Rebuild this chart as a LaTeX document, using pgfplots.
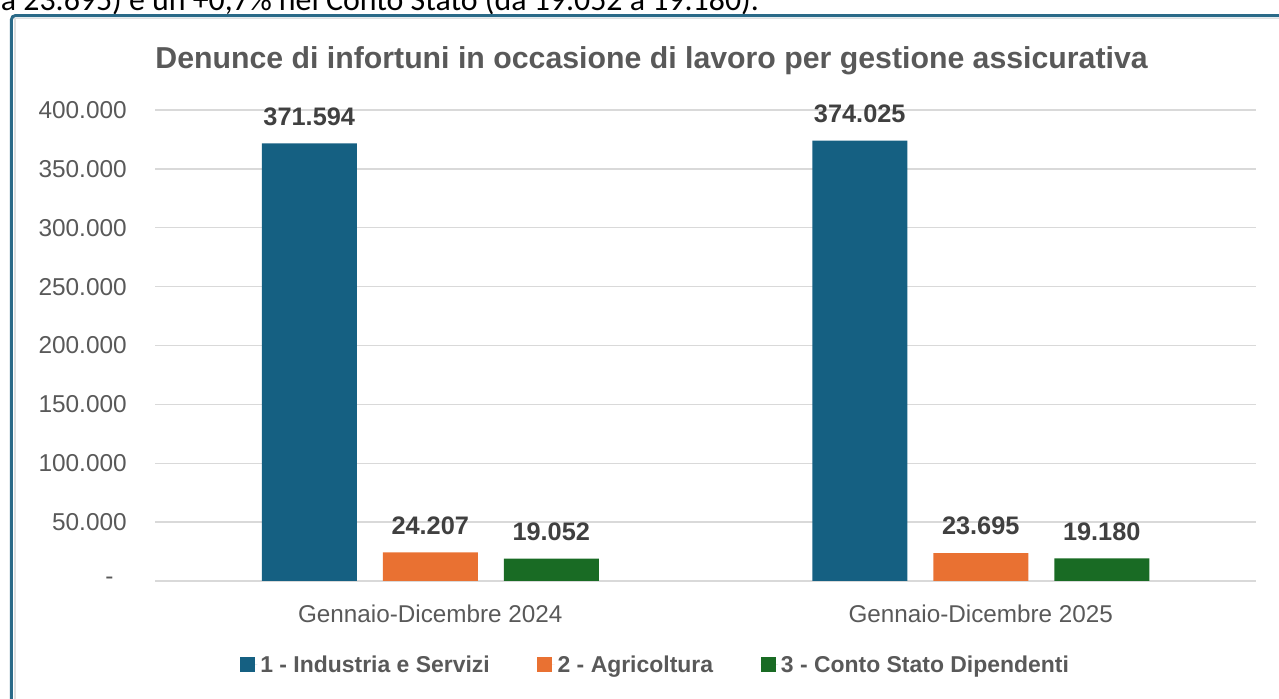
\documentclass[border=0pt]{standalone}
\usepackage{pgfplots}
\pgfplotsset{compat=1.18}
\usepackage{fontspec}
\setmainfont{Liberation Sans}
\newfontfamily\calfont{Carlito}
\definecolor{cblue}{HTML}{156082}
\definecolor{corange}{HTML}{E97132}
\definecolor{cgreen}{HTML}{196B24}
\definecolor{tgray}{HTML}{595959}
\definecolor{vgray}{HTML}{404040}
\definecolor{gridc}{HTML}{D9D9D9}
\definecolor{framec}{HTML}{2A6A88}
\begin{document}
\begin{tikzpicture}
\useasboundingbox (0,0) rectangle (959.25pt,524.25pt);
\clip (0,0) rectangle (959.25pt,524.25pt);
\node[anchor=base west, inner sep=0pt] at (0.5pt,516.0pt) {\resizebox{568.5pt}{!}{\calfont a 23.695) e un +0,7\% nel Conto Stato (da 19.052 a 19.180).}};
\draw[framec, line width=2.25pt, rounded corners=3pt] (8.6pt,-10pt) -- (8.6pt,512.6pt) -- (990pt,512.6pt);
\draw[gray!25, line width=0.9pt] (11.2pt,-10pt) -- (11.2pt,510.1pt) -- (990pt,510.1pt);
\begin{axis}[
  at={(116.25pt,88.5pt)}, anchor=south west,
  scale only axis, width=825.75pt, height=353.25pt,
  xmin=-0.5, xmax=1.5, ymin=0, ymax=400000,
  scaled y ticks=false,
  ybar, bar width=71.25pt,
  axis line style={draw=none},
  major tick length=0pt,
  xtick={0,1},
  xticklabels={Gennaio-Dicembre 2024, Gennaio-Dicembre 2025},
  ytick={0,50000,100000,150000,200000,250000,300000,350000,400000},
  yticklabels={-\hspace*{10pt},50.000,100.000,150.000,200.000,250.000,300.000,350.000,400.000},
  ymajorgrids,
  grid style={gridc, line width=1.1pt},
  yticklabel style={font=\fontsize{18.3}{20}\selectfont, text=tgray, anchor=east, inner sep=0pt, xshift=-21pt},
  xticklabel style={font=\fontsize{18.2}{20}\selectfont, text=tgray, anchor=north, inner sep=0pt, yshift=-18pt},
  point meta=explicit symbolic,
  nodes near coords,
  nodes near coords style={font=\bfseries\fontsize{19}{21}\selectfont, text=vgray, anchor=south, inner sep=0pt, yshift=13.3pt},
  title={Denunce di infortuni in occasione di lavoro per gestione assicurativa},
  title style={at={(0.451,1.087)}, anchor=center, font=\bfseries\fontsize{22.7}{26}\selectfont, text=tgray},
  legend style={at={(0.455,-0.178)}, anchor=center, draw=none, fill=none, legend columns=3,
    font=\bfseries\fontsize{17.2}{19}\selectfont, text=tgray,
    nodes={inner sep=2.2pt},
    /tikz/every even column/.append style={column sep=33.5pt}},
  legend image code/.code={\path (0pt,0pt) -- (13pt,0pt); \fill[#1] (0pt,-5.6pt) rectangle (11.25pt,5.6pt);},
  clip=false,
]
\addplot[fill=cblue, draw=none, bar shift=-90.75pt] coordinates {(0,371594) [371.594] (1,374025) [374.025]};
\addplot[fill=corange, draw=none, bar shift=0pt] coordinates {(0,24207) [24.207] (1,23695) [23.695]};
\addplot[fill=cgreen, draw=none, bar shift=90.75pt] coordinates {(0,19052) [19.052] (1,19180) [19.180]};
\legend{1 - Industria e Servizi, 2 - Agricoltura, 3 - Conto Stato Dipendenti}
\end{axis}
\end{tikzpicture}
\end{document}
